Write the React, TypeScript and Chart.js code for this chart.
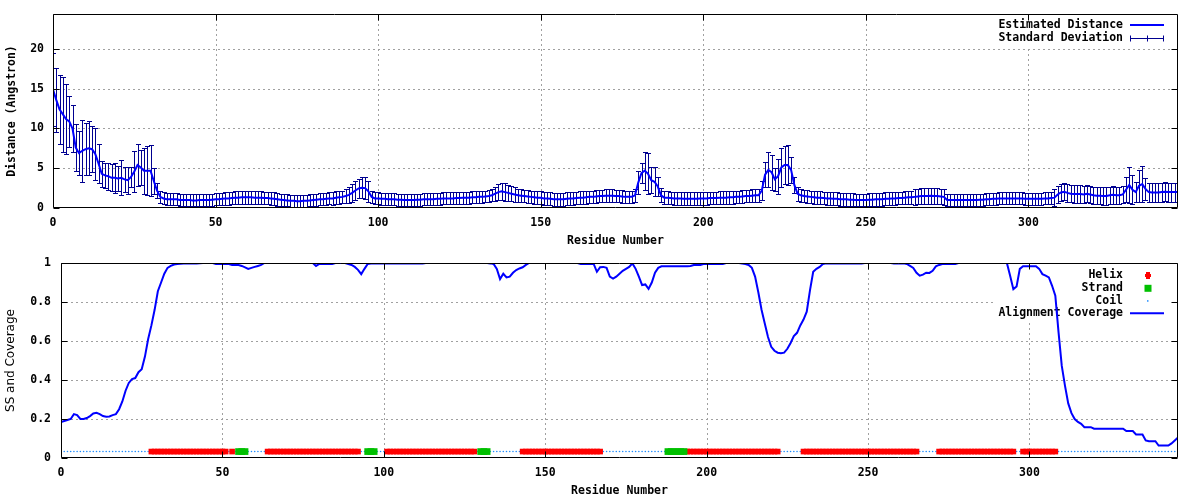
import { useEffect, useRef } from "react";
import { Chart, registerables } from "chart.js";

Chart.register(...registerables);

// ---------- data ----------
const X_MAX = 346;
const X_TICKS = [0, 50, 100, 150, 200, 250, 300];
const DIST_TICKS = [0, 5, 10, 15, 20];
const COV_TICKS = [0, 0.2, 0.4, 0.6, 0.8, 1];

// estimated distance per residue (0..346)
const DIST = [
  14.9, 13.6, 12.4, 11.8, 11.2, 10.9, 10.0, 7.6, 6.9, 7.2,
  7.4, 7.5, 7.4, 6.8, 5.6, 4.3, 4.1, 4.0, 3.8, 3.8,
  3.7, 3.8, 3.6, 3.5, 3.9, 4.6, 5.4, 5.1, 4.7, 4.7,
  4.7, 3.4, 2.2, 1.4, 1.2, 1.1, 1.1, 1.1, 1.1, 1.0,
  1.0, 1.0, 1.0, 0.95, 0.95, 1.0, 1.0, 1.0, 1.0, 1.05,
  1.1, 1.1, 1.15, 1.2, 1.2, 1.25, 1.3, 1.3, 1.35, 1.35,
  1.35, 1.35, 1.3, 1.3, 1.3, 1.25, 1.25, 1.2, 1.15, 1.1,
  1.05, 1.0, 0.95, 0.9, 0.9, 0.85, 0.85, 0.9, 0.9, 0.95,
  1.0, 1.05, 1.1, 1.1, 1.15, 1.2, 1.2, 1.3, 1.35, 1.4,
  1.5, 1.65, 1.9, 2.2, 2.45, 2.55, 2.5, 2.1, 1.4, 1.2,
  1.2, 1.15, 1.15, 1.1, 1.1, 1.1, 1.05, 1.05, 1.0, 1.0,
  1.0, 1.0, 1.05, 1.05, 1.1, 1.1, 1.1, 1.1, 1.15, 1.15,
  1.2, 1.2, 1.2, 1.2, 1.25, 1.25, 1.3, 1.3, 1.3, 1.35,
  1.35, 1.4, 1.4, 1.45, 1.5, 1.6, 1.8, 2.0, 2.1, 2.0,
  1.9, 1.8, 1.7, 1.6, 1.55, 1.5, 1.45, 1.4, 1.35, 1.3,
  1.3, 1.2, 1.2, 1.15, 1.1, 1.1, 1.1, 1.1, 1.15, 1.2,
  1.2, 1.25, 1.3, 1.3, 1.35, 1.4, 1.4, 1.45, 1.5, 1.5,
  1.55, 1.55, 1.55, 1.5, 1.5, 1.45, 1.4, 1.4, 1.4, 1.6,
  3.2, 4.4, 4.7, 4.3, 3.5, 3.3, 2.7, 1.6, 1.3, 1.3,
  1.25, 1.2, 1.2, 1.2, 1.15, 1.15, 1.15, 1.15, 1.15, 1.2,
  1.2, 1.2, 1.25, 1.25, 1.25, 1.3, 1.3, 1.3, 1.35, 1.35,
  1.4, 1.4, 1.45, 1.5, 1.5, 1.55, 1.6, 1.6, 2.2, 4.2,
  4.8, 4.5, 3.6, 4.0, 5.1, 5.4, 5.4, 4.8, 2.9, 1.8,
  1.6, 1.5, 1.45, 1.4, 1.35, 1.3, 1.3, 1.25, 1.2, 1.2,
  1.15, 1.15, 1.1, 1.1, 1.1, 1.05, 1.05, 1.0, 1.0, 1.0,
  1.0, 1.05, 1.05, 1.1, 1.1, 1.1, 1.15, 1.15, 1.2, 1.2,
  1.25, 1.25, 1.3, 1.35, 1.35, 1.4, 1.45, 1.5, 1.5, 1.5,
  1.55, 1.5, 1.5, 1.45, 1.4, 1.0, 1.0, 1.0, 1.0, 1.0,
  1.0, 1.0, 1.0, 1.0, 1.0, 1.05, 1.05, 1.1, 1.1, 1.15,
  1.15, 1.2, 1.2, 1.2, 1.2, 1.2, 1.2, 1.2, 1.2, 1.15,
  1.15, 1.15, 1.15, 1.15, 1.15, 1.2, 1.2, 1.25, 1.3, 1.7,
  1.95, 2.05, 1.9, 1.8, 1.75, 1.75, 1.75, 1.7, 1.8, 1.7,
  1.6, 1.55, 1.55, 1.5, 1.5, 1.6, 1.65, 1.6, 1.6, 1.7,
  2.3, 2.9, 2.3, 2.0, 2.8, 3.0, 2.4, 2.0, 1.95, 1.95,
  1.95, 2.0, 2.05, 2.0, 2.0, 2.0, 2.0,
];

// standard deviation per residue (0..346)
const STD = [
  4.6, 4.0, 4.3, 4.7, 4.4, 3.2, 3.0, 3.0, 2.8, 3.9,
  3.3, 3.4, 2.9, 3.3, 2.4, 1.6, 1.6, 1.7, 1.7, 1.9,
  1.6, 2.2, 1.6, 1.7, 1.3, 2.6, 2.6, 2.2, 2.9, 3.1,
  3.2, 1.6, 1.0, 0.8, 0.75, 0.75, 0.75, 0.75, 0.75, 0.75,
  0.75, 0.75, 0.75, 0.75, 0.75, 0.75, 0.75, 0.75, 0.75, 0.75,
  0.75, 0.75, 0.75, 0.8, 0.8, 0.8, 0.85, 0.85, 0.85, 0.85,
  0.85, 0.85, 0.85, 0.85, 0.8, 0.8, 0.8, 0.8, 0.8, 0.8,
  0.75, 0.75, 0.75, 0.75, 0.75, 0.75, 0.75, 0.75, 0.75, 0.75,
  0.75, 0.75, 0.75, 0.75, 0.75, 0.75, 0.8, 0.8, 0.8, 0.8,
  0.9, 1.0, 1.1, 1.2, 1.2, 1.3, 1.35, 1.3, 0.8, 0.75,
  0.75, 0.75, 0.75, 0.75, 0.75, 0.75, 0.75, 0.75, 0.75, 0.75,
  0.75, 0.75, 0.75, 0.75, 0.75, 0.75, 0.75, 0.75, 0.75, 0.75,
  0.75, 0.75, 0.75, 0.75, 0.75, 0.75, 0.75, 0.75, 0.75, 0.75,
  0.75, 0.75, 0.75, 0.75, 0.75, 0.75, 0.9, 1.0, 1.1, 1.1,
  1.0, 0.95, 0.9, 0.8, 0.8, 0.8, 0.8, 0.8, 0.8, 0.8,
  0.8, 0.8, 0.8, 0.8, 0.8, 0.8, 0.8, 0.8, 0.8, 0.8,
  0.8, 0.8, 0.8, 0.8, 0.8, 0.8, 0.8, 0.8, 0.8, 0.8,
  0.8, 0.8, 0.8, 0.8, 0.8, 0.8, 0.8, 0.8, 0.8, 0.8,
  1.5, 1.3, 2.4, 2.6, 1.6, 1.8, 1.2, 0.9, 0.8, 0.8,
  0.8, 0.8, 0.8, 0.8, 0.8, 0.8, 0.8, 0.8, 0.8, 0.8,
  0.8, 0.8, 0.8, 0.8, 0.8, 0.8, 0.8, 0.8, 0.8, 0.8,
  0.8, 0.8, 0.8, 0.8, 0.8, 0.8, 0.8, 0.8, 1.2, 1.6,
  2.2, 2.2, 1.4, 2.2, 2.5, 2.4, 2.5, 1.6, 1.0, 0.9,
  0.85, 0.8, 0.8, 0.8, 0.8, 0.8, 0.8, 0.8, 0.8, 0.8,
  0.8, 0.8, 0.8, 0.8, 0.8, 0.8, 0.8, 0.8, 0.8, 0.8,
  0.8, 0.8, 0.8, 0.8, 0.8, 0.8, 0.8, 0.8, 0.8, 0.8,
  0.8, 0.8, 0.8, 0.8, 0.8, 1.0, 1.0, 1.0, 1.0, 1.0,
  1.0, 1.0, 1.0, 1.0, 1.0, 0.75, 0.75, 0.75, 0.75, 0.75,
  0.75, 0.75, 0.75, 0.75, 0.75, 0.75, 0.75, 0.75, 0.75, 0.75,
  0.75, 0.75, 0.75, 0.75, 0.75, 0.75, 0.75, 0.75, 0.75, 0.75,
  0.75, 0.75, 0.75, 0.75, 0.75, 0.75, 0.75, 0.75, 1.1, 1.1,
  1.1, 1.1, 1.1, 1.1, 1.1, 1.1, 1.1, 1.1, 1.1, 1.1,
  1.1, 1.1, 1.1, 1.1, 1.1, 1.1, 1.1, 1.1, 1.1, 1.1,
  1.6, 2.3, 1.8, 1.3, 2.0, 2.3, 1.4, 1.2, 1.2, 1.2,
  1.2, 1.2, 1.2, 1.2, 1.2, 1.2, 1.2,
];

// alignment coverage per residue (0..346)
const COVERAGE = [
  0.185, 0.19, 0.195, 0.2, 0.225, 0.22, 0.2, 0.2, 0.205, 0.215,
  0.228, 0.232, 0.225, 0.215, 0.212, 0.213, 0.22, 0.225, 0.25, 0.29,
  0.345, 0.385, 0.405, 0.41, 0.44, 0.455, 0.52, 0.61, 0.68, 0.76,
  0.855, 0.9, 0.945, 0.975, 0.985, 0.992, 0.995, 0.996, 0.997, 0.997,
  0.998, 0.998, 0.998, 0.999, 1.0, 1.0, 1.0, 1.0, 0.995, 0.995,
  0.995, 0.995, 0.995, 0.99, 0.99, 0.99, 0.985, 0.978, 0.97, 0.975,
  0.98, 0.985, 0.99, 1.0, 1.0, 1.0, 1.0, 1.0, 1.0, 1.0,
  1.0, 1.0, 1.0, 1.0, 1.0, 1.0, 1.0, 1.0, 1.0, 0.985,
  0.995, 0.995, 0.995, 0.995, 0.995, 1.0, 1.0, 1.0, 1.0, 0.995,
  0.99, 0.98, 0.965, 0.943, 0.97, 0.995, 0.997, 0.997, 0.997, 0.997,
  0.997, 0.997, 0.997, 0.997, 0.997, 0.997, 0.997, 0.997, 0.997, 0.997,
  0.997, 0.997, 0.997, 1.0, 1.0, 1.0, 1.0, 1.0, 1.0, 1.0,
  1.0, 1.0, 1.0, 1.0, 1.0, 1.0, 1.0, 1.0, 1.0, 1.0,
  1.0, 1.0, 1.0, 0.998, 0.995, 0.97, 0.918, 0.945, 0.926, 0.93,
  0.95, 0.964, 0.972, 0.978, 0.99, 1.0, 1.0, 1.0, 1.0, 1.0,
  1.0, 1.0, 1.0, 1.0, 1.0, 1.0, 1.0, 1.0, 1.0, 1.0,
  1.0, 0.995, 0.995, 0.995, 0.995, 0.995, 0.955, 0.978, 0.98, 0.975,
  0.93, 0.92, 0.93, 0.945, 0.96, 0.97, 0.98, 0.998, 0.97, 0.93,
  0.887, 0.89, 0.867, 0.9, 0.95, 0.975, 0.983, 0.983, 0.983, 0.983,
  0.983, 0.983, 0.983, 0.983, 0.983, 0.985, 0.99, 0.99, 0.99, 0.995,
  0.995, 0.995, 0.995, 0.995, 0.995, 0.995, 1.0, 1.0, 1.0, 1.0,
  1.0, 0.997, 0.995, 0.99, 0.975, 0.93, 0.85, 0.76, 0.69, 0.62,
  0.57, 0.55, 0.54, 0.537, 0.54, 0.56, 0.59, 0.625, 0.642, 0.68,
  0.71, 0.75, 0.86, 0.955, 0.97, 0.98, 0.995, 0.998, 0.998, 0.998,
  0.998, 0.998, 0.998, 0.998, 0.998, 0.998, 0.998, 0.998, 0.998, 1.0,
  1.0, 1.0, 1.0, 1.0, 1.0, 1.0, 1.0, 1.0, 0.998, 0.998,
  0.998, 0.998, 0.995, 0.985, 0.975, 0.95, 0.935, 0.94, 0.95, 0.949,
  0.96, 0.983, 0.99, 0.995, 0.995, 0.995, 0.995, 0.995, 1.0, 1.0,
  1.0, 1.0, 1.0, 1.0, 1.0, 1.0, 1.0, 1.0, 1.0, 1.0,
  1.0, 1.0, 1.0, 1.0, 0.935, 0.866, 0.88, 0.97, 0.983, 0.983,
  0.983, 0.983, 0.983, 0.97, 0.943, 0.935, 0.926, 0.883, 0.832, 0.644,
  0.472, 0.37, 0.28, 0.23, 0.2, 0.185, 0.175, 0.158, 0.158, 0.158,
  0.15, 0.15, 0.15, 0.15, 0.15, 0.15, 0.15, 0.15, 0.15, 0.15,
  0.138, 0.138, 0.138, 0.121, 0.121, 0.121, 0.09, 0.086, 0.086, 0.086,
  0.064, 0.064, 0.064, 0.064, 0.075, 0.09, 0.105,
];

// secondary structure segments [first residue, last residue]
const HELIX_SEGMENTS = [[28, 51], [53, 53], [64, 92], [101, 128], [143, 167], [194, 222], [230, 265], [272, 295], [298, 308]];
const STRAND_SEGMENTS = [[55, 57], [95, 97], [130, 132], [188, 193]];
const SS_LEVEL = 0.033;

// ---------- styling ----------
const MONO = "'DejaVu Sans Mono', monospace";
const TICK_FONT = { family: MONO, size: 11.5, weight: "bold" as const };
const BLUE = "#0000ff";
const NAVY = "#000090";
const RED = "#ff0000";
const GREEN = "#00c000";
const COIL = "#1e8cff";
const LEGEND_TEXT_X = 1123;

const inSegments = (r: number, segs: number[][]) => segs.some(([a, b]) => r >= a && r <= b);

type Row = { label: string; y: number; draw: (ctx: CanvasRenderingContext2D, y: number) => void };

function framePlugin(opts: {
  xTicks: number[];
  yTicks: number[];
  box: [number, number, number, number];
  rows: Row[];
  errors?: { values: number[]; spread: number[] };
}) {
  return {
    id: "gnuFrame",
    beforeDatasetsDraw(chart: any) {
      const { ctx, chartArea: a, scales } = chart;
      const xs = scales.x;
      const ys = scales.y;
      ctx.save();
      // dotted grid
      ctx.strokeStyle = "#a0a0a0";
      ctx.lineWidth = 1;
      ctx.setLineDash([2, 3]);
      ctx.beginPath();
      for (const v of opts.xTicks) {
        const p = Math.round(xs.getPixelForValue(v)) + 0.5;
        if (p <= a.left + 1 || p >= a.right - 1) continue;
        ctx.moveTo(p, a.top);
        ctx.lineTo(p, a.bottom);
      }
      for (const v of opts.yTicks) {
        const p = Math.round(ys.getPixelForValue(v)) + 0.5;
        if (p <= a.top + 1 || p >= a.bottom - 1) continue;
        ctx.moveTo(a.left, p);
        ctx.lineTo(a.right, p);
      }
      ctx.stroke();
      ctx.setLineDash([]);
      // opaque key
      ctx.fillStyle = "#ffffff";
      ctx.fillRect(...opts.box);
      ctx.font = `bold 11.5px ${MONO}`;
      ctx.textAlign = "right";
      ctx.textBaseline = "middle";
      for (const row of opts.rows) {
        ctx.fillStyle = "#000";
        ctx.fillText(row.label, LEGEND_TEXT_X, row.y);
        row.draw(ctx, row.y);
      }
      // error bars
      if (opts.errors) {
        const { values, spread } = opts.errors;
        ctx.save();
        ctx.beginPath();
        ctx.rect(a.left, a.top, a.right - a.left, a.bottom - a.top);
        ctx.clip();
        ctx.strokeStyle = NAVY;
        ctx.lineWidth = 1;
        ctx.beginPath();
        values.forEach((v, i) => {
          const px = Math.round(xs.getPixelForValue(i)) + 0.5;
          const yT = Math.round(ys.getPixelForValue(v + spread[i])) + 0.5;
          const yB = Math.round(ys.getPixelForValue(v - spread[i])) + 0.5;
          ctx.moveTo(px, yT);
          ctx.lineTo(px, yB);
          ctx.moveTo(px - 2.5, yT);
          ctx.lineTo(px + 2.5, yT);
          ctx.moveTo(px - 2.5, yB);
          ctx.lineTo(px + 2.5, yB);
        });
        ctx.stroke();
        ctx.restore();
      }
      ctx.restore();
    },
    afterDatasetsDraw(chart: any) {
      const { ctx, chartArea: a, scales } = chart;
      const xs = scales.x;
      const ys = scales.y;
      ctx.save();
      ctx.strokeStyle = "#000";
      ctx.lineWidth = 1;
      const L = Math.round(a.left) + 0.5;
      const R = Math.round(a.right) - 0.5;
      const T = Math.round(a.top) + 0.5;
      const B = Math.round(a.bottom) - 0.5;
      ctx.beginPath();
      ctx.rect(L, T, R - L, B - T);
      const tl = 6;
      for (const v of opts.xTicks) {
        const p = Math.round(xs.getPixelForValue(v)) + 0.5;
        ctx.moveTo(p, B);
        ctx.lineTo(p, B - tl);
        ctx.moveTo(p, T);
        ctx.lineTo(p, T + tl);
      }
      for (const v of opts.yTicks) {
        const p = Math.round(ys.getPixelForValue(v)) + 0.5;
        ctx.moveTo(L, p);
        ctx.lineTo(L + tl, p);
        ctx.moveTo(R, p);
        ctx.lineTo(R - tl, p);
      }
      ctx.stroke();
      ctx.restore();
    },
  };
}

function xScale() {
  return {
    type: "linear" as const,
    min: 0,
    max: X_MAX,
    grid: { display: false, drawTicks: false },
    border: { display: false },
    afterBuildTicks: (axis: any) => {
      axis.ticks = X_TICKS.map((v) => ({ value: v }));
    },
    ticks: {
      font: TICK_FONT,
      color: "#000",
      padding: 8,
      maxRotation: 0,
      autoSkip: false,
      callback: (v: any) => String(v),
    },
    title: {
      display: true,
      text: "Residue Number",
      font: TICK_FONT,
      color: "#000",
      padding: { top: 0, bottom: 2 },
    },
    afterFit: (s: any) => {
      s.height = 42;
      s.paddingLeft = 0;
      s.paddingRight = 0;
      s.paddingTop = 0;
      s.paddingBottom = 0;
    },
  };
}

function yFit(width: number) {
  return (s: any) => {
    s.width = width;
    s.paddingTop = 0;
    s.paddingBottom = 0;
    s.paddingLeft = 0;
    s.paddingRight = 0;
  };
}

function topConfig(): any {
  const residues = DIST.map((_, i) => i);
  return {
    type: "line",
    data: {
      datasets: [
        {
          label: "Estimated Distance",
          data: residues.map((r) => ({ x: r, y: DIST[r] })),
          borderColor: BLUE,
          borderWidth: 2,
          pointRadius: 0,
          tension: 0,
          fill: false,
        },
      ],
    },
    options: {
      animation: false,
      responsive: false,
      devicePixelRatio: 1,
      events: [],
      layout: { padding: { top: 14, right: 22, left: 0, bottom: 0 } },
      plugins: { legend: { display: false }, tooltip: { enabled: false }, title: { display: false } },
      scales: {
        x: xScale(),
        y: {
          type: "linear",
          min: 0,
          max: 24.4,
          grid: { display: false, drawTicks: false },
          border: { display: false },
          afterBuildTicks: (axis: any) => {
            axis.ticks = DIST_TICKS.map((v) => ({ value: v }));
          },
          ticks: { font: TICK_FONT, color: "#000", padding: 9, callback: (v: any) => String(v) },
          title: {
            display: true,
            text: "Distance (Angstron)",
            font: TICK_FONT,
            color: "#000",
            padding: { top: 5, bottom: 0 },
          },
          afterFit: yFit(53),
        },
      },
    },
    plugins: [
      framePlugin({
        xTicks: X_TICKS,
        yTicks: DIST_TICKS,
        box: [994, 18, 178, 29],
        rows: [
          {
            label: "Estimated Distance",
            y: 25,
            draw: (ctx, y) => {
              ctx.strokeStyle = BLUE;
              ctx.lineWidth = 2;
              ctx.beginPath();
              ctx.moveTo(1130, y);
              ctx.lineTo(1164, y);
              ctx.stroke();
            },
          },
          {
            label: "Standard Deviation",
            y: 38.5,
            draw: (ctx, y) => {
              ctx.strokeStyle = NAVY;
              ctx.lineWidth = 1;
              ctx.beginPath();
              ctx.moveTo(1130, y);
              ctx.lineTo(1164, y);
              for (const px of [1130.5, 1147.5, 1163.5]) {
                ctx.moveTo(px, y - 3);
                ctx.lineTo(px, y + 3);
              }
              ctx.stroke();
            },
          },
        ],
        errors: { values: DIST, spread: STD },
      }),
    ],
  };
}

function bottomConfig(): any {
  const residues = COVERAGE.map((_, i) => i);
  const helix = residues.filter((r) => inSegments(r, HELIX_SEGMENTS));
  const strand = residues.filter((r) => inSegments(r, STRAND_SEGMENTS));
  const coil = residues.filter((r) => !inSegments(r, HELIX_SEGMENTS) && !inSegments(r, STRAND_SEGMENTS));
  return {
    type: "line",
    data: {
      datasets: [
        {
          label: "Alignment Coverage",
          data: residues.map((r) => ({ x: r, y: COVERAGE[r] })),
          borderColor: BLUE,
          borderWidth: 2,
          pointRadius: 0,
          tension: 0,
          fill: false,
        },
        {
          label: "Strand",
          data: strand.map((r) => ({ x: r, y: SS_LEVEL })),
          showLine: false,
          pointStyle: "rect",
          pointRadius: 4.75,
          pointBorderWidth: 0,
          pointBackgroundColor: GREEN,
        },
        {
          label: "Helix",
          data: helix.map((r) => ({ x: r, y: SS_LEVEL })),
          showLine: false,
          pointStyle: "rect",
          pointRadius: 4,
          pointBorderWidth: 0,
          pointBackgroundColor: RED,
        },
        {
          label: "Coil",
          data: coil.map((r) => ({ x: r, y: SS_LEVEL })),
          showLine: false,
          pointStyle: "circle",
          pointRadius: 0.8,
          pointBorderWidth: 0,
          pointBackgroundColor: COIL,
        },
      ],
    },
    options: {
      animation: false,
      responsive: false,
      devicePixelRatio: 1,
      events: [],
      layout: { padding: { top: 13, right: 22, left: 0, bottom: 0 } },
      plugins: { legend: { display: false }, tooltip: { enabled: false }, title: { display: false } },
      scales: {
        x: xScale(),
        y: {
          type: "linear",
          min: 0,
          max: 1,
          grid: { display: false, drawTicks: false },
          border: { display: false },
          afterBuildTicks: (axis: any) => {
            axis.ticks = COV_TICKS.map((v) => ({ value: v }));
          },
          ticks: {
            font: TICK_FONT,
            color: "#000",
            padding: 10,
            callback: (v: any) => String(Number(Number(v).toFixed(1))),
          },
          title: {
            display: true,
            text: "SS and Coverage",
            font: { family: "'DejaVu Sans', sans-serif", size: 12 },
            color: "#000",
            padding: { top: 4, bottom: 0 },
          },
          afterFit: yFit(61),
        },
      },
    },
    plugins: [
      framePlugin({
        xTicks: X_TICKS,
        yTicks: COV_TICKS,
        box: [996, 14, 176, 56],
        rows: [
          {
            label: "Helix",
            y: 25,
            draw: (ctx, y) => {
              ctx.fillStyle = RED;
              ctx.fillRect(1146, y - 3, 4, 7);
              ctx.fillRect(1145, y - 1, 6, 3);
            },
          },
          {
            label: "Strand",
            y: 38.3,
            draw: (ctx, y) => {
              ctx.fillStyle = GREEN;
              ctx.fillRect(1144.5, y - 3.5, 7, 7);
            },
          },
          {
            label: "Coil",
            y: 50.7,
            draw: (ctx, y) => {
              ctx.fillStyle = COIL;
              ctx.fillRect(1147, y - 0.5, 1.5, 1.5);
            },
          },
          {
            label: "Alignment Coverage",
            y: 63.3,
            draw: (ctx, y) => {
              ctx.strokeStyle = BLUE;
              ctx.lineWidth = 2;
              ctx.beginPath();
              ctx.moveTo(1130, y);
              ctx.lineTo(1164, y);
              ctx.stroke();
            },
          },
        ],
      }),
    ],
  };
}

export default function App() {
  const topRef = useRef<HTMLCanvasElement>(null);
  const botRef = useRef<HTMLCanvasElement>(null);
  useEffect(() => {
    const c1 = new Chart(topRef.current as HTMLCanvasElement, topConfig());
    const c2 = new Chart(botRef.current as HTMLCanvasElement, bottomConfig());
    return () => {
      c1.destroy();
      c2.destroy();
    };
  }, []);
  return (
    <div style={{ position: "absolute", left: 0, top: 0, width: 1200, height: 500, background: "#fff" }}>
      <canvas ref={topRef} width={1200} height={250} style={{ display: "block" }} />
      <canvas ref={botRef} width={1200} height={250} style={{ display: "block" }} />
    </div>
  );
}
